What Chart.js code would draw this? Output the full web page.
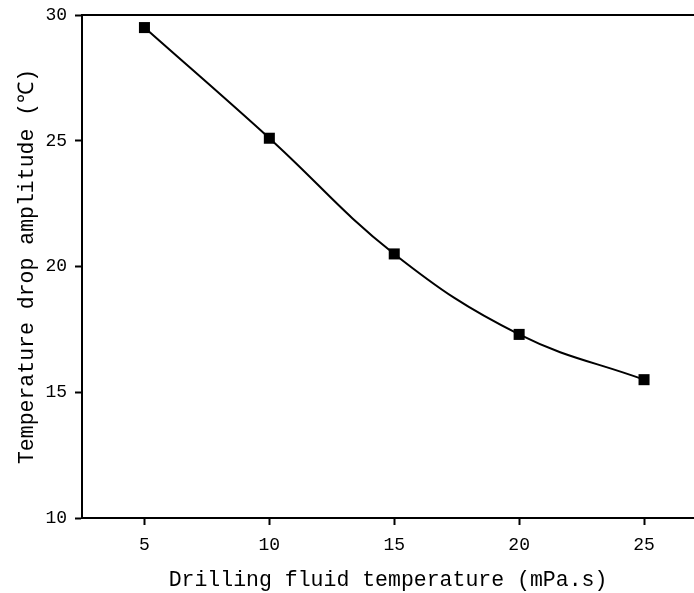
<!DOCTYPE html>
<html>
<head>
<meta charset="utf-8">
<script src="https://cdn.jsdelivr.net/npm/chart.js@4/dist/chart.umd.min.js"></script>
<style>
  html, body { margin: 0; padding: 0; background: #fff; }
  #wrap { width: 694px; height: 593px; }
</style>
</head>
<body>
<div id="wrap"><canvas id="c" width="694" height="593"></canvas></div>
<script>
const viscosity = [5, 10, 15, 20, 25];
const dropAmplitude = [29.5, 25.1, 20.5, 17.3, 15.5];
const xTicks = [5, 10, 15, 20, 25];
const yTicks = [10, 15, 20, 25, 30];

const font = "'Liberation Mono', 'DejaVu Sans Mono', monospace";

const pts = viscosity.map((v, i) => ({ x: v, y: dropAmplitude[i] }));

// keep the plot box fixed: no extra room for edge tick labels
const noEdgePad = s => { s.paddingLeft = 0; s.paddingRight = 0; s.paddingTop = 0; s.paddingBottom = 0; };

new Chart(document.getElementById('c'), {
  type: 'scatter',
  data: {
    datasets: [{
      data: pts,
      showLine: true,
      borderColor: '#000',
      borderWidth: 2,
      tension: 0.4,
      pointStyle: 'rect',
      pointRadius: 7.8,
      pointBackgroundColor: '#000',
      pointBorderColor: '#000',
      pointBorderWidth: 0
    }]
  },
  options: {
    responsive: false,
    animation: false,
    layout: { padding: 0, autoPadding: false },
    plugins: { legend: { display: false }, tooltip: { enabled: false } },
    scales: {
      x: {
        type: 'linear', min: 2.5, max: 27,
        afterBuildTicks: s => { s.ticks = xTicks.map(v => ({ value: v })); },
        afterFit: s => { s.height = 75; noEdgePad(s); },
        grid: { drawOnChartArea: false, drawTicks: true, tickLength: 7, tickColor: '#000', tickWidth: 2 },
        border: { display: true, color: '#000', width: 2 },
        ticks: { color: '#000', font: { family: font, size: 18 }, padding: 9, maxRotation: 0 },
        title: { display: true, text: 'Drilling fluid temperature (mPa.s)', color: '#000',
                 font: { family: font, size: 21.5 }, padding: { top: 0, bottom: 0 } }
      },
      x2: {
        type: 'linear', position: 'top', min: 2.5, max: 27,
        afterFit: s => { s.height = 15; noEdgePad(s); },
        grid: { display: false },
        border: { display: true, color: '#000', width: 2 },
        ticks: { display: false }
      },
      y: {
        type: 'linear', min: 10, max: 30,
        afterBuildTicks: s => { s.ticks = yTicks.map(v => ({ value: v })); },
        afterFit: s => { s.width = 82; noEdgePad(s); },
        grid: { drawOnChartArea: false, drawTicks: true, tickLength: 7, tickColor: '#000', tickWidth: 2 },
        border: { display: true, color: '#000', width: 2 },
        ticks: { color: '#000', font: { family: font, size: 18 }, padding: 8 },
        title: { display: true, text: 'Temperature drop amplitude (℃)', color: '#000',
                 font: { family: font, size: 21.5 }, padding: { top: 14, bottom: 0 } }
      }
    }
  }
});
</script>
</body>
</html>
